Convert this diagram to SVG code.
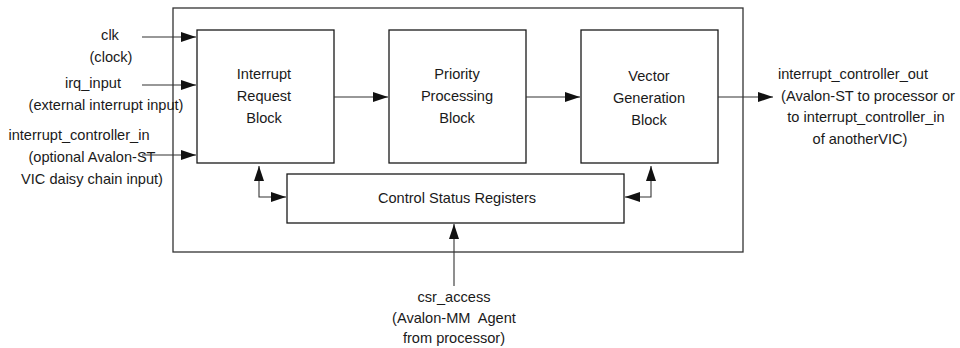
<svg xmlns="http://www.w3.org/2000/svg" width="960" height="348" viewBox="0 0 960 348">
<style>
text{font-family:"Liberation Sans",Arial,sans-serif;font-size:14.6px;fill:#1a1a1a;}
.box{fill:#fff;stroke:#1a1a1a;stroke-width:1.3;}
.outer{fill:none;stroke:#333;stroke-width:1.3;}
.c{text-anchor:middle;}
.ln{fill:none;stroke:#333;stroke-width:1.1;}
</style>
<defs>
<marker id="ah" markerUnits="userSpaceOnUse" markerWidth="16" markerHeight="12" refX="15" refY="6" orient="auto-start-reverse">
<path d="M0,1 L15,6 L0,11 Z" fill="#111"/>
</marker>
</defs>
<rect width="960" height="348" fill="#fff"/>
<g id="outer"><rect class="outer" x="173" y="8" width="570" height="244"/></g>
<g id="irb"><rect class="box" x="197" y="30" width="137" height="133"/>
<text class="c" x="264" y="79">Interrupt</text><text class="c" x="264" y="101">Request</text><text class="c" x="264" y="123">Block</text></g>
<g id="ppb"><rect class="box" x="389" y="30" width="137" height="133"/>
<text class="c" x="457" y="79">Priority</text><text class="c" x="457" y="101">Processing</text><text class="c" x="457" y="123">Block</text></g>
<g id="vgb"><rect class="box" x="581" y="30" width="137" height="133"/>
<text class="c" x="649" y="81">Vector</text><text class="c" x="649" y="103">Generation</text><text class="c" x="649" y="125">Block</text></g>
<g id="csr"><rect class="box" x="287" y="174" width="337" height="49"/>
<text class="c" x="457" y="203">Control Status Registers</text></g>
<g id="labels">
<text class="c" x="110" y="40">clk</text>
<text class="c" x="111" y="62">(clock)</text>
<text class="c" x="93" y="88">irq_input</text>
<text class="c" x="106" y="110">(external interrupt input)</text>
<text class="c" x="79" y="140">interrupt_controller_in</text>
<text class="c" x="92" y="162">(optional Avalon-ST</text>
<text class="c" x="92" y="184">VIC daisy chain input)</text>
<text class="c" x="853" y="79">interrupt_controller_out</text>
<text class="c" x="868" y="101">(Avalon-ST to processor or</text>
<text class="c" x="866" y="122">to interrupt_controller_in</text>
<text class="c" x="860" y="144">of anotherVIC)</text>
<text class="c" x="454" y="302">csr_access</text>
<text class="c" x="454" y="323" xml:space="preserve">(Avalon-MM  Agent</text>
<text class="c" x="454" y="343">from processor)</text>
</g>
<g id="connectors">
<line class="ln" x1="142" y1="37" x2="196" y2="37" marker-end="url(#ah)"/>
<line class="ln" x1="142" y1="85" x2="196" y2="85" marker-end="url(#ah)"/>
<line class="ln" x1="142" y1="155" x2="196" y2="155" marker-end="url(#ah)"/>
<line class="ln" x1="334" y1="97" x2="388" y2="97" marker-end="url(#ah)"/>
<line class="ln" x1="526" y1="97" x2="580" y2="97" marker-end="url(#ah)"/>
<line class="ln" x1="718" y1="97" x2="773" y2="97" marker-end="url(#ah)"/>
<path class="ln" d="M259,166 L259,197 L286,197" marker-start="url(#ah)" marker-end="url(#ah)"/>
<path class="ln" d="M651,166 L651,197 L625,197" marker-start="url(#ah)" marker-end="url(#ah)"/>
<line class="ln" x1="454" y1="286" x2="454" y2="224" marker-end="url(#ah)"/>
</g>
</svg>
